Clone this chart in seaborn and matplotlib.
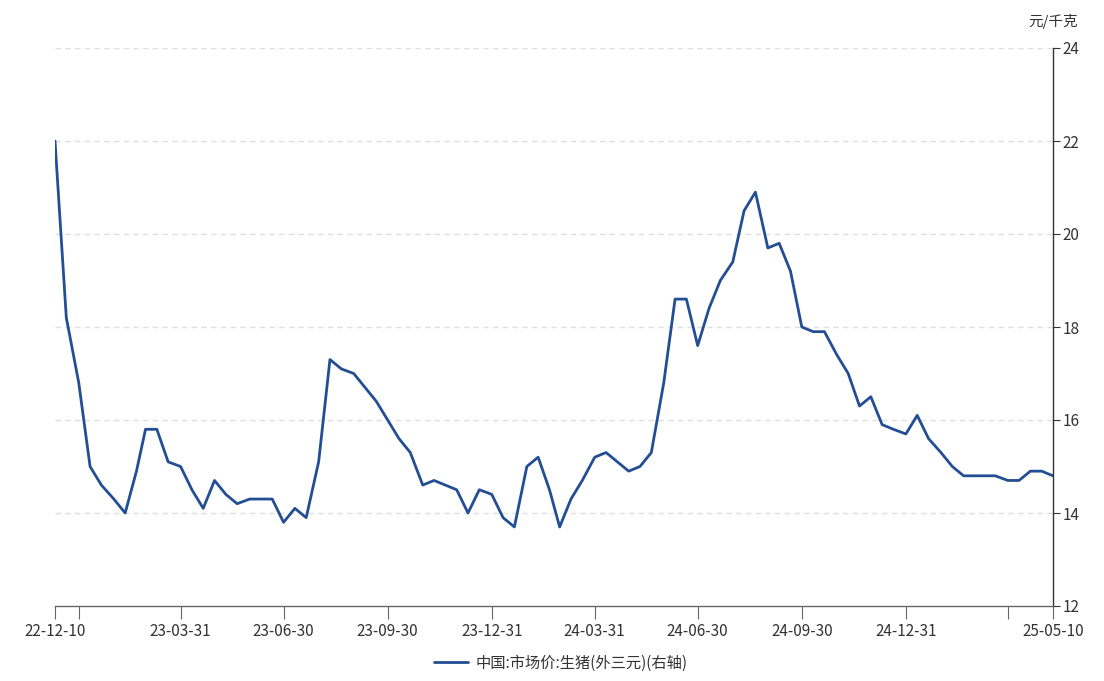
import pandas as pd
import matplotlib
matplotlib.use("Agg")
import matplotlib.pyplot as plt
import seaborn as sns

sns.set_theme(style="white")
plt.rcParams['font.family'] = ['Noto Sans CJK SC', 'DejaVu Sans']
plt.rcParams['axes.unicode_minus'] = False

# 旬度日期: 每月 10日, 20日, 月末 (22-12-10 ~ 25-05-10)
months = pd.date_range('2022-12-01', '2025-05-01', freq='MS')
dates = []
for m in months:
    dates += [m + pd.Timedelta(days=9), m + pd.Timedelta(days=19), m + pd.offsets.MonthEnd(0)]
dates = [d for d in dates if d <= pd.Timestamp('2025-05-10')]

price = [22.0, 18.2, 16.8, 15.0, 14.6, 14.3, 14.0, 14.9, 15.8, 15.8, 15.1, 15.0,
         14.5, 14.1, 14.7, 14.4, 14.2, 14.3, 14.3, 14.3, 13.8, 14.1, 13.9, 15.1,
         17.3, 17.1, 17.0, 16.7, 16.4, 16.0, 15.6, 15.3, 14.6, 14.7, 14.6, 14.5,
         14.0, 14.5, 14.4, 13.9, 13.7, 15.0, 15.2, 14.5, 13.7, 14.3, 14.7, 15.2,
         15.3, 15.1, 14.9, 15.0, 15.3, 16.8, 18.6, 18.6, 17.6, 18.4, 19.0, 19.4,
         20.5, 20.9, 19.7, 19.8, 19.2, 18.0, 17.9, 17.9, 17.4, 17.0, 16.3, 16.5,
         15.9, 15.8, 15.7, 16.1, 15.6, 15.3, 15.0, 14.8, 14.8, 14.8, 14.8, 14.7,
         14.7, 14.9, 14.9, 14.8]

series_name = '中国:市场价:生猪(外三元)(右轴)'
unit = '元/千克'
tick_dates = ['2022-12-10', '2022-12-31', '2023-03-31', '2023-06-30', '2023-09-30',
              '2023-12-31', '2024-03-31', '2024-06-30', '2024-09-30', '2024-12-31',
              '2025-03-31', '2025-05-10']
tick_labels = ['22-12-10', '', '23-03-31', '23-06-30', '23-09-30', '23-12-31',
               '24-03-31', '24-06-30', '24-09-30', '24-12-31', '', '25-05-10']

df = pd.DataFrame({'date': dates, 'value': price})

fig = plt.figure(figsize=(11.04, 6.81), dpi=100)
ax = fig.add_axes([55 / 1104, 1 - 606 / 681, (1053 - 55) / 1104, (606 - 48) / 681])

sns.lineplot(data=df, x='date', y='value', ax=ax, color='#234E93', linewidth=2.0,
             label=series_name, legend=False)

ax.set_xlim(pd.Timestamp('2022-12-10'), pd.Timestamp('2025-05-10'))
ax.set_ylim(12, 24)
ax.set_yticks(range(12, 25, 2))
ax.yaxis.tick_right()
ax.set_xticks(pd.to_datetime(tick_dates))
ax.set_xticklabels(tick_labels)
ax.set_xlabel('')
ax.set_ylabel('')

# 横向虚线网格
for y in range(14, 25, 2):
    ax.axhline(y, color='#E0E0E0', linestyle=(0, (4, 3)), linewidth=1.0, zorder=0)

for s in ['left', 'top']:
    ax.spines[s].set_visible(False)
ax.spines['right'].set_color('#333333')
ax.spines['bottom'].set_color('#666666')
ax.spines['right'].set_linewidth(1.0)
ax.spines['bottom'].set_linewidth(1.0)

ax.tick_params(axis='x', direction='out', length=9, width=0.8, color='#666666',
               labelsize=11, labelcolor='#333333', pad=3, bottom=True)
ax.tick_params(axis='y', direction='out', length=5, width=0.8, color='#333333',
               labelsize=11, labelcolor='#333333', pad=2, right=True, left=False)

ax.text(1.0, 1.047, unit, transform=ax.transAxes, ha='center', va='center',
        fontsize=10.5, color='#333333')

handles, labels = ax.get_legend_handles_labels()
fig.legend(handles, labels, loc='center', bbox_to_anchor=(0.508, 1 - 663 / 681),
           frameon=False, fontsize=11, handlelength=2.2, handletextpad=0.5,
           labelcolor='#333333')

fig.savefig('out.png', dpi=100)
